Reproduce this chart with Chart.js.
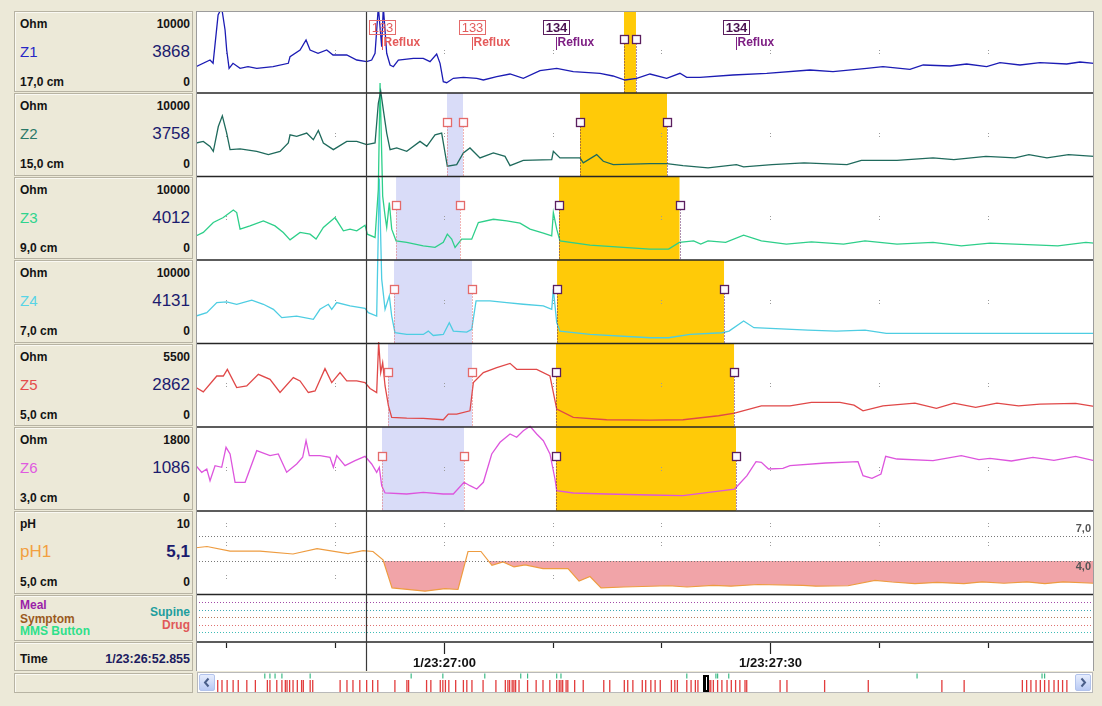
<!DOCTYPE html>
<html lang="en">
<head>
<meta charset="utf-8">
<title>Impedance / pH tracing</title>
<script src="https://cdn.jsdelivr.net/npm/chart.js@4.4.1/dist/chart.umd.min.js"></script>
<style>
  html, body { margin: 0; padding: 0; }
  body { width: 1102px; height: 706px; background: #ECE9D8; position: relative; overflow: hidden;
         font-family: "Liberation Sans", Arial, Helvetica, sans-serif; }
  #side { position: absolute; left: 0; top: 0; }
  .box { position: absolute; left: 14px; width: 179px; box-sizing: border-box; background: #ECE9D8;
         border: 1px solid #B7B3A3; box-shadow: inset 1px 1px 0 #FAF9F3; }
  .lbl { position: absolute; white-space: nowrap; line-height: 1; }
  #trace { position: absolute; left: 196px; top: 11px; background: #fff; }
  #scroll { position: absolute; left: 197px; top: 672px; width: 896px; height: 21px; box-sizing: border-box;
            border: 1px solid #B9B9B9; background: #fff; }
  .arrow { position: absolute; top: 1px; width: 16px; height: 17px; box-sizing: border-box;
           border: 1px solid #B2C3EC; border-radius: 2px; background: linear-gradient(#E6EDFD, #B9CAF4); }
  .arrow svg { position: absolute; left: 0; top: 0; }
  #overview { position: absolute; left: 18px; top: 0; }
</style>
</head>
<body>
<div id="side"></div>
<canvas id="trace" width="898" height="660"></canvas>
<div id="scroll">
  <div class="arrow" style="left:1px"><svg width="14" height="15" viewBox="0 0 14 15"><polyline points="8.5,3.5 5,7.5 8.5,11.5" fill="none" stroke="#4A5F8A" stroke-width="2"/></svg></div>
  <canvas id="overview" width="856" height="19"></canvas>
  <div class="arrow" style="right:1px"><svg width="14" height="15" viewBox="0 0 14 15"><polyline points="5.5,3.5 9,7.5 5.5,11.5" fill="none" stroke="#4A5F8A" stroke-width="2"/></svg></div>
</div>
<script>
// ---------- time window (seconds after 1/23:26:00) ----------
const viewStart = 37.24;
const viewEnd = 119.74;
const timeTicks = [40, 50, 60, 70, 80, 90, 100, 110];
const timeTickLabels = ['', '', '1/23:27:00', '', '', '1/23:27:30', '', ''];
const cursorTime = 52.855;
const cursorLabel = '1/23:26:52.855';

// ---------- channels ----------
const channelKeys = ['z1', 'z2', 'z3', 'z4', 'z5', 'z6', 'ph'];
const channelNames = ['Z1', 'Z2', 'Z3', 'Z4', 'Z5', 'Z6', 'pH1'];
const channelUnits = ['Ohm', 'Ohm', 'Ohm', 'Ohm', 'Ohm', 'Ohm', 'pH'];
const scaleMax = [10000, 10000, 10000, 10000, 5500, 1800, 10];
const scaleMaxLabels = ['10000', '10000', '10000', '10000', '5500', '1800', '10'];
const cursorValues = ['3868', '3758', '4012', '4131', '2862', '1086', '5,1'];
const sensorDepths = ['17,0 cm', '15,0 cm', '9,0 cm', '7,0 cm', '5,0 cm', '3,0 cm', '5,0 cm'];

// impedance traces, [seconds, Ohm]
const z1 = [[37.24,3207],[38.53,4024],[38.81,3622],[39.27,9512],[39.60,10400],[39.91,7683],[40.06,5244],[40.28,3012],[40.64,3622],[41.29,3012],[42.02,3207],[42.82,3012],[44.32,3207],[45.72,3622],[45.88,4427],[46.80,5244],[47.35,6463],[47.72,5244],[48.45,4841],[49.25,5244],[49.83,4634],[51.09,4634],[52.01,4024],[52.92,3817],[53.38,4024],[53.69,4841],[53.99,10500],[54.30,5646],[54.45,10500],[54.76,4841],[55.07,3415],[55.37,3207],[55.83,4024],[57.21,4232],[58.12,4232],[58.74,3817],[59.35,4756],[59.66,3622],[59.96,1378],[60.27,1256],[60.88,1793],[61.80,1915],[63.03,1793],[63.64,1585],[64.87,1988],[66.09,2317],[67.31,1793],[68.84,2720],[70.38,3012],[71.90,2598],[74.36,2402],[75.55,2073],[76.65,1585],[77.73,1793],[78.95,2317],[80.48,1793],[81.70,2402],[82.32,1915],[83.54,1915],[86.57,2195],[89.67,2402],[93.65,2805],[95.76,2598],[98.86,3012],[100.35,3207],[102.83,2890],[104.05,3415],[106.51,3293],[108.04,3537],[109.88,3207],[111.10,3695],[112.94,3415],[114.77,3695],[117.23,3537],[118.45,3780],[119.74,3622]];
const z2 = [[37.24,4012],[37.91,4202],[38.53,3607],[38.83,3012],[39.29,5988],[39.66,7262],[40.06,5202],[40.37,3214],[41.29,3298],[42.82,3012],[43.89,2619],[44.96,3012],[45.72,4012],[45.88,5000],[46.49,4798],[47.41,5202],[48.02,4405],[48.48,5512],[48.94,4012],[49.86,3214],[51.09,4202],[52.01,4202],[52.92,3810],[53.69,4012],[53.99,8774],[54.21,10200],[54.45,7976],[54.76,5202],[55.07,3214],[55.68,3417],[56.60,3012],[57.82,4202],[58.44,3607],[59.20,5000],[59.81,5202],[60.12,2821],[60.33,1226],[61.19,1429],[61.80,2821],[62.41,3417],[63.33,2226],[64.56,2821],[65.63,2417],[66.09,1310],[67.31,1940],[69.92,2024],[70.07,3012],[70.68,2226],[72.52,2226],[72.82,1631],[74.05,2619],[74.66,1821],[75.58,1429],[78.95,1548],[80.49,1548],[81.98,1310],[84.28,1036],[86.89,1429],[87.55,1155],[90.16,1429],[93.10,1631],[97.05,1429],[98.37,1940],[101.64,1940],[104.95,2226],[106.87,2024],[109.81,2417],[112.48,2226],[113.76,2619],[115.42,2226],[117.40,2619],[119.74,2417]];
const z3 = [[37.24,2893],[37.91,3298],[38.83,4488],[39.75,5083],[40.67,5988],[40.98,5679],[41.29,3691],[42.20,4083],[43.43,4679],[44.50,4083],[45.26,3298],[45.88,2417],[46.80,3298],[47.72,3095],[48.27,2500],[48.94,3893],[50.01,5083],[50.78,3488],[51.39,3691],[52.01,3488],[52.77,4167],[52.98,3095],[53.69,2702],[53.99,8453],[54.15,21190],[54.39,7655],[54.61,5274],[54.76,3893],[55.00,6869],[55.22,3691],[55.62,2298],[56.60,2107],[58.12,1702],[59.20,1512],[59.96,2107],[60.33,3095],[60.73,2500],[61.04,1512],[61.65,2500],[62.57,2500],[63.18,4488],[64.56,4881],[65.79,4679],[67.01,4405],[67.93,3691],[69.15,3214],[69.92,2893],[70.07,5679],[70.38,3691],[70.68,2298],[73.44,1786],[76.50,1512],[78.95,1310],[80.66,1310],[81.64,2107],[82.96,2298],[83.61,1905],[84.28,2298],[85.90,2107],[87.55,2976],[89.18,2298],[91.48,1905],[93.78,2179],[96.73,1905],[98.70,2298],[101.64,1905],[104.95,2107],[107.55,1702],[110.18,2024],[114.77,1786],[116.42,1702],[118.99,2107],[119.74,2024]];
const z4 = [[37.24,3289],[38.23,3699],[39.15,4904],[40.06,4976],[40.98,4699],[42.36,5181],[43.43,4699],[44.35,4096],[45.12,3096],[46.49,3289],[48.02,2892],[48.63,4096],[49.40,4699],[49.71,4096],[50.17,4904],[51.39,4494],[52.77,4217],[53.07,3699],[53.84,3289],[54.08,19759],[54.30,7711],[54.61,4096],[55.00,5699],[55.22,3289],[55.52,1289],[56.60,1084],[58.12,1084],[58.58,1482],[59.04,964],[59.96,1084],[60.51,2494],[60.88,1482],[62.11,1361],[62.57,1687],[62.97,5096],[64.25,5096],[65.79,4904],[67.31,4699],[69.15,4494],[69.92,4096],[70.07,6506],[70.38,2494],[70.68,1482],[73.44,1084],[78.95,687],[80.66,687],[82.63,1084],[85.56,1289],[86.21,1482],[87.55,2687],[88.50,1892],[90.50,1771],[93.46,1602],[96.07,1482],[98.70,1602],[100.66,1205],[104.95,1205],[111.47,1205],[119.74,1205]];
const z5 = [[37.24,2600],[37.91,2311],[39.15,3359],[39.75,3359],[40.12,3798],[40.98,2600],[41.90,2704],[42.97,3470],[44.04,3143],[44.96,2272],[46.18,3254],[46.80,3032],[47.56,2272],[48.18,2377],[49.09,3844],[49.71,2927],[50.47,3582],[51.09,3032],[52.01,3032],[52.77,2927],[53.23,2534],[53.84,2272],[54.02,5600],[54.21,3582],[54.39,4237],[54.61,2704],[54.92,1395],[55.22,635],[56.60,589],[58.12,570],[59.96,478],[60.42,851],[61.19,851],[62.41,1067],[62.72,2927],[63.64,3582],[64.87,3909],[66.09,4191],[66.70,3798],[68.54,3798],[69.76,3359],[70.07,2272],[70.38,1179],[71.90,635],[74.97,478],[78.95,458],[81.98,478],[85.25,740],[86.72,917],[89.18,1395],[91.81,1395],[93.78,1617],[96.40,1617],[97.69,1441],[98.52,1067],[100.35,1395],[103.29,1572],[105.26,1224],[106.87,1572],[108.87,1290],[110.82,1572],[112.81,1395],[114.77,1506],[118.05,1552],[119.74,1355]];
const z6 = [[37.24,971],[37.77,829],[38.23,900],[38.53,649],[38.99,971],[39.60,936],[40.00,1365],[40.37,1222],[40.83,615],[41.75,615],[42.82,1292],[44.04,1185],[44.80,1222],[45.57,829],[46.49,1007],[47.04,1151],[47.35,1507],[47.65,1185],[48.63,1185],[49.55,1151],[49.86,936],[50.17,1185],[50.93,971],[51.85,1078],[52.77,1172],[53.38,1007],[53.84,829],[54.08,936],[54.30,542],[54.61,386],[56.60,364],[58.12,401],[59.96,364],[60.88,364],[61.86,615],[62.41,542],[63.03,471],[63.64,615],[64.41,1222],[65.17,1472],[66.09,1650],[66.70,1579],[67.31,1721],[67.93,1815],[68.54,1650],[69.15,1507],[69.76,1222],[70.22,686],[70.38,435],[71.90,386],[74.97,364],[78.95,343],[81.98,328],[86.72,471],[87.86,756],[88.69,1057],[89.18,1044],[89.84,900],[91.16,915],[91.81,971],[95.09,1029],[98.06,1057],[98.52,756],[99.34,701],[100.17,793],[100.60,1172],[101.64,1114],[104.95,1078],[107.55,1185],[109.17,1099],[110.18,1129],[112.15,1072],[114.13,1151],[116.06,1087],[118.05,1172],[119.74,1078]];
// pH trace, [seconds, pH]
const ph1 = [[37.24,5.6],[38.25,5.75],[40.37,5.2],[43.12,5.2],[46.15,4.85],[48.36,5.5],[51.21,4.9],[52.59,5.25],[53.50,5.15],[54.42,4.15],[55.25,0.8],[58.28,0.4],[60.12,0.7],[61.31,0.6],[62.23,5.15],[63.42,5.15],[64.43,3.5],[65.45,3.9],[66.46,3.3],[67.47,3.55],[69.12,3.1],[71.42,3.1],[72.43,1.6],[73.44,2.15],[74.45,0.8],[76.56,0.9],[80.69,1.05],[82.35,0.9],[84.74,1.1],[86.39,1.0],[88.87,1.2],[93.00,1.1],[94.20,1.0],[97.14,1.05],[99.62,1.7],[101.18,1.5],[103.29,1.3],[105.31,1.45],[107.79,1.3],[109.45,1.5],[111.47,1.35],[113.58,1.5],[115.23,1.3],[116.89,1.5],[119.74,1.35]];

// ---------- reflux episodes: [start, end] seconds on each impedance channel Z1..Z6 ----------
const reflux133 = [null, [60.30, 61.77], [55.62, 61.50], [55.43, 62.60], [54.88, 62.60], [54.33, 61.86]];
const reflux134 = [[76.56, 77.66], [72.52, 80.51], [70.59, 81.66], [70.41, 85.75], [70.31, 86.67], [70.31, 86.85]];
const refluxIds = [133, 134];
const refluxBounds = [[54.33, 62.60], [70.31, 86.85]];

// ---------- pH reference levels ----------
const phReference = [7, 4];
const phReferenceLabels = ['7,0', '4,0'];
const acidThreshold = 4;
const phGrid = [8.3, 6.1, 2.1];

// ---------- event rows ----------
const eventLeft = ['Meal', 'Symptom', 'MMS Button'];
const eventRight = ['Supine', 'Drug'];

// ---------- study overview (percent of the whole recording) ----------
const overviewReflux = [0.2,0.7,1.3,2.0,2.6,3.6,4.6,6.0,6.3,7.1,7.7,8.1,8.3,8.6,9.0,9.5,10.0,10.2,11.0,11.3,14.5,15.3,16.0,16.8,17.6,18.3,18.9,20.9,22.3,22.5,24.6,25.1,26.2,26.5,26.8,27.2,28.0,28.9,29.3,29.9,31.2,32.7,33.8,34.1,34.3,34.6,34.8,35.0,35.4,36.4,37.4,38.2,39.0,39.8,40.1,40.3,40.5,40.9,41.1,41.9,42.9,45.3,46.0,47.7,48.1,48.7,49.8,50.2,50.8,51.3,51.9,53.2,53.6,53.9,55.0,55.5,56.0,56.3,57.6,57.8,58.1,58.6,59.1,59.7,60.2,60.7,61.2,61.8,62.0,65.9,66.7,71.1,76.2,84.8,87.4,94.2,94.7,95.2,95.8,96.3,96.8,97.3,97.9,98.4,98.9,99.4];
const overviewEvents = [5.7,6.3,6.9,7.7,11.0,22.8,26.5,31.4,35.6,36.4,39.8,40.3,55.0,58.4,58.6,59.9,81.9,96.5,96.8];
const overviewPosition = 57.3;

// ---------- styles ----------
const channelColors = ['#2626C6', '#2A7868', '#2FD48E', '#58D4E6', '#E44C4C', '#E05AE0', '#F2A040'];
const traceColors = ['#1C1CB4', '#1F6A5C', '#2ECF8A', '#4ECDE2', '#E04848', '#DD55DD', '#EE9C40'];
const eventColors = ['#9B1FA8', '#9A5A1E', '#2EE08A', '#1E9E9E', '#E05858'];
const eventLineColors = ['#A24AA8', '#3FA9B3', '#B9775A', '#E07070', '#3DBCB6'];
const LAVENDER = '#D9DCF8';
const AMBER = '#FFCA08';
const refluxStyles = [
  { box: '#E46A6A', id: '#E25C5C', idFont: '13px "Liberation Sans", Arial, sans-serif', text: '#E45A5A' },
  { box: '#5A1E5E', id: '#4A1050', idFont: 'bold 13px "Liberation Sans", Arial, sans-serif', text: '#7E1F84' }
];
const phLabelOffset = [-7, 6];
const FONT = '"Liberation Sans", Arial, sans-serif';

// ---------- layout: panel edges on the page ----------
const PAGE_TOP = 11;
const PLOT_H = 660;
const rowEdges = [11, 93, 176.5, 260, 343.5, 427, 511, 594.5, 642, 671];

function rangeFor(row, max) {
  const t = rowEdges[row] - PAGE_TOP, b = rowEdges[row + 1] - PAGE_TOP;
  const k = max / (b - t);
  return { min: -(PLOT_H - b) * k, max: max + t * k };
}

// ---------- side panel ----------
const side = document.getElementById('side');
function box(top, height) {
  const b = document.createElement('div');
  b.className = 'box';
  b.style.top = top + 'px';
  b.style.height = height + 'px';
  side.appendChild(b);
  return b;
}
function text(parent, str, css) {
  const s = document.createElement('span');
  s.className = 'lbl';
  s.textContent = str;
  Object.assign(s.style, css);
  parent.appendChild(s);
  return s;
}
const small = 'bold 12px ' + FONT;
for (let i = 0; i < 7; i++) {
  const top = Math.round(rowEdges[i]);
  const b = box(top, Math.round(rowEdges[i + 1]) - top - 1);
  text(b, channelUnits[i], { left: '5px', top: '5px', font: small, color: '#141414' });
  text(b, scaleMaxLabels[i], { right: '2px', top: '5px', font: small, color: '#141414' });
  text(b, channelNames[i], { left: '5px', top: i === 6 ? '30px' : '31px', font: (i === 6 ? '17px ' : '15px ') + FONT, color: channelColors[i] });
  text(b, cursorValues[i], { right: '2px', top: '30px', font: (i === 6 ? 'bold 17px ' : '17px ') + FONT, color: '#1B1B6E' });
  text(b, sensorDepths[i], { left: '5px', top: '63px', font: small, color: '#141414' });
  text(b, '0', { right: '2px', top: '63px', font: small, color: '#141414' });
}
{
  const top = Math.round(rowEdges[7]);
  const b = box(top, Math.round(rowEdges[8]) - top - 1);
  const leftTops = [2, 15.5, 28];
  eventLeft.forEach((n, k) => text(b, n, { left: '5px', top: leftTops[k] + 'px', font: small, color: eventColors[k] }));
  const rightTops = [9, 22];
  eventRight.forEach((n, k) => text(b, n, { right: '2px', top: rightTops[k] + 'px', font: small, color: eventColors[3 + k] }));
}
{
  const top = Math.round(rowEdges[8]);
  const b = box(top, 29);
  text(b, 'Time', { left: '5px', top: '9px', font: small, color: '#141414' });
  text(b, cursorLabel, { right: '2px', top: '9px', font: 'bold 12.5px ' + FONT, color: '#1B1B60' });
  box(673, 20);
}

// ---------- tracing chart ----------
function rowBox(chart, i) {
  const sc = chart.scales[channelKeys[i]];
  return { top: sc.getPixelForValue(scaleMax[i]), bottom: sc.getPixelForValue(0) };
}
function line(ctx, x0, y0, x1, y1) {
  ctx.beginPath(); ctx.moveTo(x0, y0); ctx.lineTo(x1, y1); ctx.stroke();
}

const tracing = {
  id: 'tracing',
  beforeDatasetsDraw(chart) {
    const { ctx, scales } = chart;
    const X = v => scales.x.getPixelForValue(v);
    ctx.save();
    [[reflux133, LAVENDER], [reflux134, AMBER]].forEach(([spans, colour]) => {
      spans.forEach((span, i) => {
        if (!span) return;
        const r = rowBox(chart, i);
        ctx.fillStyle = colour;
        ctx.fillRect(X(span[0]), r.top, X(span[1]) - X(span[0]), r.bottom - r.top);
      });
    });
    ctx.fillStyle = '#9C9C9C';
    timeTicks.forEach(t => {
      const x = Math.round(X(t));
      const ys = [];
      for (let i = 0; i < 6; i++) ys.push(scales[channelKeys[i]].getPixelForValue(scaleMax[i] / 2));
      phGrid.forEach(v => ys.push(scales.ph.getPixelForValue(v)));
      ys.forEach(y => { y = Math.round(y); ctx.fillRect(x, y - 2, 1, 1); ctx.fillRect(x, y + 1, 1, 1); });
    });
    ctx.restore();
  },
  afterDatasetsDraw(chart) {
    const { ctx, scales } = chart;
    const X = v => scales.x.getPixelForValue(v);
    const W = chart.width;
    ctx.save();

    // pH reference levels
    ctx.setLineDash([1, 2]); ctx.lineWidth = 1; ctx.strokeStyle = '#777';
    phReference.forEach(v => { const y = Math.round(scales.ph.getPixelForValue(v)) + 0.5; line(ctx, 0, y, W, y); });
    ctx.setLineDash([]);
    ctx.font = 'bold 11px ' + FONT; ctx.fillStyle = '#555'; ctx.textAlign = 'right'; ctx.textBaseline = 'middle';
    phReference.forEach((v, j) => ctx.fillText(phReferenceLabels[j], W - 3, scales.ph.getPixelForValue(v) + phLabelOffset[j]));

    // episode start / end markers on each channel
    [[reflux133, refluxStyles[0].box], [reflux134, refluxStyles[1].box]].forEach(([spans, colour]) => {
      spans.forEach((span, i) => {
        if (!span) return;
        const r = rowBox(chart, i);
        const my = Math.round(r.top + (r.bottom - r.top) * 0.345) + 0.5;
        span.forEach(t => {
          const x = Math.round(X(t)) + 0.5;
          ctx.strokeStyle = colour; ctx.lineWidth = 1; ctx.setLineDash([1, 2]);
          line(ctx, x, my + 4, x, r.bottom);
          ctx.setLineDash([]);
          ctx.fillStyle = '#FDFAFF'; ctx.fillRect(x - 4, my - 4, 8, 8);
          ctx.lineWidth = 1.3; ctx.strokeRect(x - 4, my - 4, 8, 8);
        });
      });
    });

    // episode labels in the Z1 row
    refluxIds.forEach((id, j) => {
      const st = refluxStyles[j];
      refluxBounds[j].forEach(t => {
        const x = Math.round(X(t)) + 0.5;
        ctx.strokeStyle = st.box; ctx.lineWidth = 1;
        ctx.strokeRect(x - 13, 9.5, 26, 14);
        ctx.fillStyle = st.id; ctx.font = st.idFont; ctx.textAlign = 'center'; ctx.textBaseline = 'middle';
        ctx.fillText(String(id), x, 17);
        ctx.strokeStyle = st.text; line(ctx, x, 26, x, 39);
        ctx.fillStyle = st.text; ctx.font = 'bold 12px ' + FONT; ctx.textAlign = 'left';
        ctx.fillText('Reflux', x + 1, 32);
      });
    });

    // row separators
    ctx.strokeStyle = '#262626'; ctx.lineWidth = 1.6;
    for (let r = 1; r <= 8; r++) { const y = rowEdges[r] - PAGE_TOP; line(ctx, 0, y, W, y); }

    // event rows
    const evTop = rowEdges[7] - PAGE_TOP;
    ctx.lineWidth = 1; ctx.setLineDash([1, 2]);
    eventLineColors.forEach((c, k) => { const y = Math.round(evTop + 7.5 * (k + 1)) + 0.5; ctx.strokeStyle = c; line(ctx, 0, y, W, y); });
    ctx.setLineDash([]);

    // time axis
    const tTop = rowEdges[8] - PAGE_TOP + 1;
    ctx.strokeStyle = '#222'; ctx.lineWidth = 1.2; ctx.fillStyle = '#111';
    ctx.font = 'bold 13px ' + FONT; ctx.textAlign = 'center'; ctx.textBaseline = 'middle';
    timeTicks.forEach((t, k) => {
      const x = Math.round(X(t)) + 0.5;
      line(ctx, x, tTop, x, tTop + (timeTickLabels[k] ? 11 : 5));
      if (timeTickLabels[k]) ctx.fillText(timeTickLabels[k], x, tTop + 20);
    });

    // cursor
    const cx = Math.round(X(cursorTime)) + 0.5;
    ctx.strokeStyle = '#3A3A3A'; ctx.lineWidth = 1.2;
    line(ctx, cx, 0, cx, PLOT_H);

    // frame
    ctx.strokeStyle = '#9C9C9C'; ctx.lineWidth = 1;
    line(ctx, 0, 0.5, W, 0.5);
    line(ctx, 0.5, 0, 0.5, PLOT_H);
    line(ctx, W - 0.5, 0, W - 0.5, PLOT_H);
    ctx.restore();
  }
};

const scales = { x: { type: 'linear', min: viewStart, max: viewEnd, display: false } };
channelKeys.forEach((k, i) => {
  scales[k] = Object.assign({ type: 'linear', display: false, bounds: 'data' }, rangeFor(i, scaleMax[i]));
});

const series = [z1, z2, z3, z4, z5, z6, ph1];
const datasets = series.map((pts, i) => ({
  label: channelNames[i],
  data: pts.map(([x, y]) => ({ x, y })),
  yAxisID: channelKeys[i],
  borderColor: traceColors[i],
  borderWidth: i === 6 ? 1.2 : 1.3,
  pointRadius: 0,
  pointHoverRadius: 0,
  tension: 0,
  fill: i === 6 ? { target: { value: acidThreshold }, above: 'rgba(0,0,0,0)', below: '#F1A4A8' } : false
}));

new Chart(document.getElementById('trace'), {
  type: 'line',
  data: { datasets },
  options: {
    responsive: false,
    animation: false,
    events: [],
    layout: { padding: 0, autoPadding: false },
    plugins: { legend: { display: false }, tooltip: { enabled: false }, title: { display: false } },
    scales
  },
  plugins: [tracing]
});

// ---------- overview strip ----------
const thumb = {
  id: 'thumb',
  afterDatasetsDraw(chart) {
    const { ctx } = chart;
    const x = Math.round(chart.scales.x.getPixelForValue(overviewPosition));
    ctx.save();
    ctx.fillStyle = '#000';
    ctx.fillRect(x - 3, 2, 6, 17);
    ctx.fillStyle = '#fff';
    ctx.fillRect(x, 4, 1, 13);
    ctx.restore();
  }
};
new Chart(document.getElementById('overview'), {
  type: 'scatter',
  data: {
    datasets: [
      { data: overviewReflux.map(x => ({ x, y: 6 })), pointStyle: 'line', pointRotation: 90, pointRadius: 6,
        pointHoverRadius: 0, pointBorderColor: '#E23C3C', pointBorderWidth: 1.3, showLine: false },
      { data: overviewEvents.map(x => ({ x, y: 16 })), pointStyle: 'line', pointRotation: 90, pointRadius: 2.5,
        pointHoverRadius: 0, pointBorderColor: '#3DBB86', pointBorderWidth: 1.2, showLine: false }
    ]
  },
  options: {
    responsive: false,
    animation: false,
    events: [],
    layout: { padding: 0, autoPadding: false },
    plugins: { legend: { display: false }, tooltip: { enabled: false } },
    scales: {
      x: { type: 'linear', min: 0, max: 100, display: false },
      y: { type: 'linear', min: 0, max: 19, display: false }
    }
  },
  plugins: [thumb]
});
</script>
</body>
</html>
